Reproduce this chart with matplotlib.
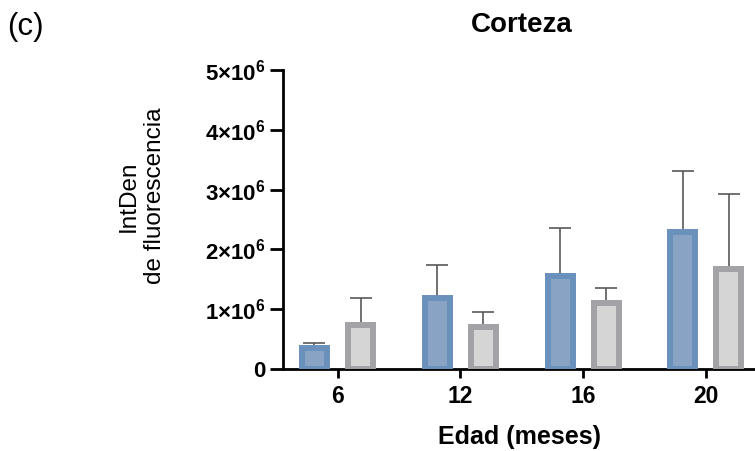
import numpy as np
import matplotlib
matplotlib.use("Agg")
import matplotlib.pyplot as plt

plt.rcParams['font.family'] = ['Liberation Sans', 'DejaVu Sans']
plt.rcParams['mathtext.fontset'] = 'custom'
plt.rcParams['mathtext.rm'] = 'Liberation Sans'
plt.rcParams['mathtext.bf'] = 'Liberation Sans:bold'

# data (values in units of 10^6)
edades = ["6", "12", "16", "20"]
media_azul = [0.35, 1.19, 1.56, 2.29]
sd_azul = [0.08, 0.55, 0.80, 1.02]
media_gris = [0.73, 0.70, 1.10, 1.68]
sd_gris = [0.45, 0.26, 0.26, 1.24]
y_ticks = [0, 1e6, 2e6, 3e6, 4e6, 5e6]
y_tick_labels = ["0", r"$\mathbf{1{\times}10^{6}}$", r"$\mathbf{2{\times}10^{6}}$",
                 r"$\mathbf{3{\times}10^{6}}$", r"$\mathbf{4{\times}10^{6}}$",
                 r"$\mathbf{5{\times}10^{6}}$"]

fig = plt.figure(figsize=(7.55, 4.51), dpi=100)
ax = fig.add_axes([283/755, 82/451, 472/755, 299/451])

x = np.arange(len(edades))
off = 0.1875
w = 0.204
azul = np.array(media_azul) * 1e6
gris = np.array(media_gris) * 1e6

ax.bar(x - off, azul, width=w, color="#88a3c3", edgecolor="#6a91bc", linewidth=4.3, zorder=3)
ax.bar(x + off, gris, width=w, color="#d5d5d5", edgecolor="#a3a3a7", linewidth=4.3, zorder=3)

ax.errorbar(x - off, azul, yerr=[np.zeros(4), np.array(sd_azul) * 1e6], fmt="none",
            ecolor="#595959", elinewidth=1.2, capsize=8, capthick=1.2, zorder=2)
ax.errorbar(x + off, gris, yerr=[np.zeros(4), np.array(sd_gris) * 1e6], fmt="none",
            ecolor="#595959", elinewidth=1.2, capsize=8, capthick=1.2, zorder=2)

ax.set_xlim(-0.444, 3.40)
ax.set_ylim(0, 5e6)
ax.set_xticks(x)
ax.set_xticklabels(edades, fontsize=16.5, fontweight="bold")
ax.set_yticks(y_ticks)
ax.set_yticklabels(y_tick_labels, fontsize=16, fontweight="bold")

for s in ["top", "right"]:
    ax.spines[s].set_visible(False)
ax.spines["left"].set_linewidth(2)
ax.spines["bottom"].set_linewidth(2)
ax.tick_params(axis="y", length=9.4, width=2, pad=3)
ax.tick_params(axis="x", length=6.5, width=2, pad=5)

ax.set_ylabel("IntDen\nde fluorescencia", fontsize=17.5, va="center", linespacing=1.25)
ax.yaxis.set_label_coords(-0.299, 0.579)
ax.set_xlabel("Edad (meses)", fontsize=18, fontweight="bold", va="center")
ax.xaxis.set_label_coords(0.5, -0.227)

fig.text(521.5/755, 1 - 32/451, "Corteza", fontsize=20, fontweight="bold",
         ha="center", va="baseline")
fig.text(7/755, 1 - 35.5/451, "(c)", fontsize=22.5, ha="left", va="baseline")

fig.savefig("out.png", dpi=100)
